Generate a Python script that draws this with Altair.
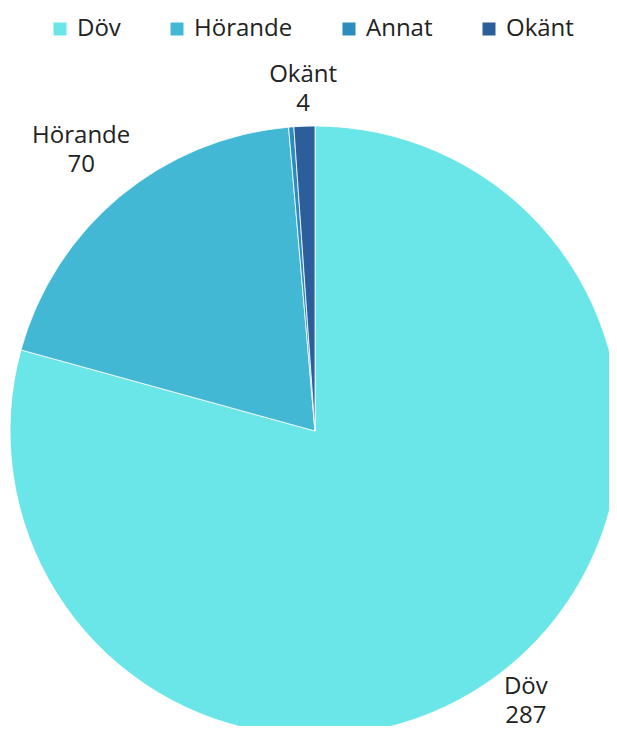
import altair as alt
import pandas as pd

categories = ["Döv", "Hörande", "Annat", "Okänt"]
values = [287, 70, 1, 4]
colors = ["#6AE5E8", "#42B8D5", "#2C8CBE", "#2D5E9C"]

df = pd.DataFrame({"kat": categories, "antal": values, "ordning": list(range(len(categories)))})

W, H = 601, 718
CX, CY, R = 307, 423, 305
FONT = "Open Sans"

base = alt.Chart(df)

pie = base.mark_arc(radius=R, stroke="white", strokeWidth=0.8).encode(
    theta=alt.Theta("antal:Q", stack=True),
    order=alt.Order("ordning:Q"),
    color=alt.Color(
        "kat:N",
        scale=alt.Scale(domain=categories, range=colors),
        legend=alt.Legend(
            title=None,
            orient="none",
            direction="horizontal",
            legendX=40,
            legendY=9,
            symbolType="square",
            symbolSize=169,
            symbolStrokeWidth=0,
            labelFont=FONT,
            labelFontSize=24,
            labelColor="#222222",
            labelOffset=5,
            columnPadding=44,
        ),
    ),
    x=alt.value(CX),
    y=alt.value(CY),
)

labels = (
    base.transform_window(cum="sum(antal)", sort=[alt.SortField("ordning")], frame=[None, 0])
    .transform_joinaggregate(total="sum(antal)")
    .transform_calculate(
        mid="(datum.cum - datum.antal/2) / datum.total * 2 * PI",
        txt="datum.kat + '\\n' + datum.antal",
    )
    .transform_filter("datum.antal >= 2")
    .transform_calculate(
        hw="max(length(datum.kat), length(toString(datum.antal))) * 6.8",
    )
    .transform_calculate(
        r=f"{R + 10} + datum.hw * abs(sin(datum.mid)) + 26 * abs(cos(datum.mid))",
    )
    .transform_calculate(
        px=f"{CX} + datum.r * sin(datum.mid)",
        py=f"min({H - 25}, {CY} - datum.r * cos(datum.mid))",
    )
    .mark_text(font=FONT, fontSize=24, color="#222222", lineBreak="\n",
               lineHeight=29, align="center", baseline="middle", dy=-14)
    .encode(
        x=alt.X("px:Q", scale=None, axis=None),
        y=alt.Y("py:Q", scale=None, axis=None),
        text="txt:N",
    )
)

chart = (
    alt.layer(pie, labels)
    .properties(width=W, height=H, padding=0, autosize=alt.AutoSizeParams(type="none"))
    .configure_view(stroke=None)
)

chart.save("out.html", embed_options={"renderer": "svg", "actions": False})
